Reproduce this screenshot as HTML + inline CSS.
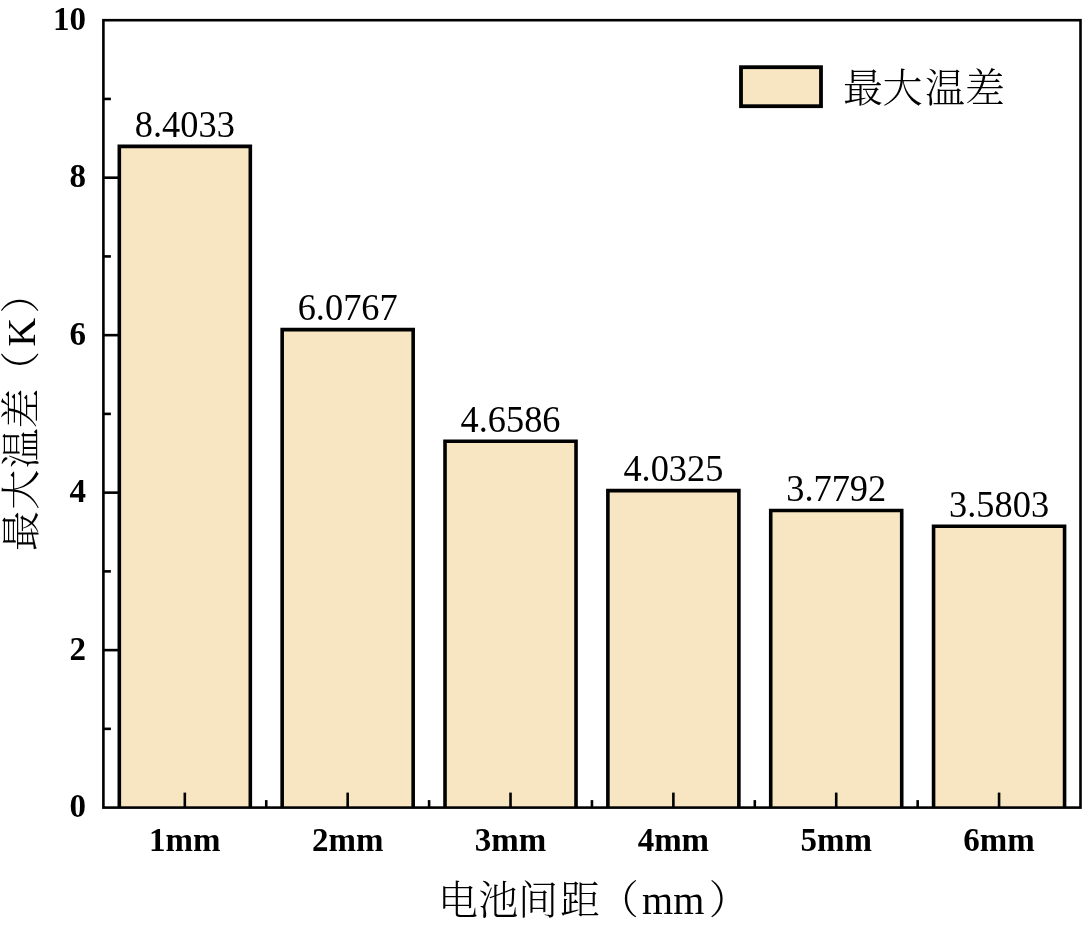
<!DOCTYPE html>
<html><head><meta charset="utf-8"><title>最大温差</title>
<style>
html,body{margin:0;padding:0;background:#fff;}
body{width:1087px;height:925px;overflow:hidden;}
svg{display:block;}
.tb{font-family:"Liberation Serif","Noto Serif CJK SC",serif;font-weight:bold;font-size:33px;fill:#000;}
.vl{font-family:"Liberation Serif","Noto Serif CJK SC",serif;font-size:37.5px;fill:#000;}
.ti{font-family:"Liberation Serif","Noto Serif CJK SC",serif;font-size:40px;font-weight:300;fill:#000;}
</style></head><body>
<svg width="1087" height="925" viewBox="0 0 1087 925">
<rect x="0" y="0" width="1087" height="925" fill="#fff"/>

<rect x="119.32" y="146.42" width="131.00" height="661.18" fill="#F7E6C1"/>
<path d="M119.32 807.6V146.42H250.32V807.6" fill="none" stroke="#000" stroke-width="3.6" stroke-linejoin="miter"/>
<text class="vl" transform="translate(184.82,137.22) scale(0.97,1)" text-anchor="middle">8.4033</text>
<rect x="282.17" y="329.62" width="131.00" height="477.98" fill="#F7E6C1"/>
<path d="M282.17 807.6V329.62H413.17V807.6" fill="none" stroke="#000" stroke-width="3.6" stroke-linejoin="miter"/>
<text class="vl" transform="translate(347.67,320.42) scale(0.97,1)" text-anchor="middle">6.0767</text>
<rect x="445.02" y="441.28" width="131.00" height="366.32" fill="#F7E6C1"/>
<path d="M445.02 807.6V441.28H576.02V807.6" fill="none" stroke="#000" stroke-width="3.6" stroke-linejoin="miter"/>
<text class="vl" transform="translate(510.52,432.08) scale(0.97,1)" text-anchor="middle">4.6586</text>
<rect x="607.88" y="490.58" width="131.00" height="317.02" fill="#F7E6C1"/>
<path d="M607.88 807.6V490.58H738.88V807.6" fill="none" stroke="#000" stroke-width="3.6" stroke-linejoin="miter"/>
<text class="vl" transform="translate(673.38,481.38) scale(0.97,1)" text-anchor="middle">4.0325</text>
<rect x="770.72" y="510.53" width="131.00" height="297.07" fill="#F7E6C1"/>
<path d="M770.72 807.6V510.53H901.72V807.6" fill="none" stroke="#000" stroke-width="3.6" stroke-linejoin="miter"/>
<text class="vl" transform="translate(836.22,501.33) scale(0.97,1)" text-anchor="middle">3.7792</text>
<rect x="933.57" y="526.19" width="131.00" height="281.41" fill="#F7E6C1"/>
<path d="M933.57 807.6V526.19H1064.57V807.6" fill="none" stroke="#000" stroke-width="3.6" stroke-linejoin="miter"/>
<text class="vl" transform="translate(999.07,516.99) scale(0.97,1)" text-anchor="middle">3.5803</text>
<rect x="103.4" y="20.2" width="977.10" height="787.40" fill="none" stroke="#000" stroke-width="2.6"/>
<text class="tb" x="86.0" y="817.10" text-anchor="end">0</text>
<line x1="103.4" y1="728.86" x2="110.9" y2="728.86" stroke="#000" stroke-width="2.6"/>
<line x1="103.4" y1="650.12" x2="118.4" y2="650.12" stroke="#000" stroke-width="2.6"/>
<text class="tb" x="86.0" y="659.62" text-anchor="end">2</text>
<line x1="103.4" y1="571.38" x2="110.9" y2="571.38" stroke="#000" stroke-width="2.6"/>
<line x1="103.4" y1="492.64" x2="118.4" y2="492.64" stroke="#000" stroke-width="2.6"/>
<text class="tb" x="86.0" y="502.14" text-anchor="end">4</text>
<line x1="103.4" y1="413.90" x2="110.9" y2="413.90" stroke="#000" stroke-width="2.6"/>
<line x1="103.4" y1="335.16" x2="118.4" y2="335.16" stroke="#000" stroke-width="2.6"/>
<text class="tb" x="86.0" y="344.66" text-anchor="end">6</text>
<line x1="103.4" y1="256.42" x2="110.9" y2="256.42" stroke="#000" stroke-width="2.6"/>
<line x1="103.4" y1="177.68" x2="118.4" y2="177.68" stroke="#000" stroke-width="2.6"/>
<text class="tb" x="86.0" y="187.18" text-anchor="end">8</text>
<line x1="103.4" y1="98.94" x2="110.9" y2="98.94" stroke="#000" stroke-width="2.6"/>
<text class="tb" x="86.0" y="29.70" text-anchor="end">10</text>
<line x1="184.82" y1="807.6" x2="184.82" y2="792.6" stroke="#000" stroke-width="2.6"/>
<line x1="266.25" y1="807.6" x2="266.25" y2="800.1" stroke="#000" stroke-width="2.6"/>
<text class="tb" x="184.82" y="851" text-anchor="middle">1mm</text>
<line x1="347.67" y1="807.6" x2="347.67" y2="792.6" stroke="#000" stroke-width="2.6"/>
<line x1="429.10" y1="807.6" x2="429.10" y2="800.1" stroke="#000" stroke-width="2.6"/>
<text class="tb" x="347.67" y="851" text-anchor="middle">2mm</text>
<line x1="510.52" y1="807.6" x2="510.52" y2="792.6" stroke="#000" stroke-width="2.6"/>
<line x1="591.95" y1="807.6" x2="591.95" y2="800.1" stroke="#000" stroke-width="2.6"/>
<text class="tb" x="510.52" y="851" text-anchor="middle">3mm</text>
<line x1="673.38" y1="807.6" x2="673.38" y2="792.6" stroke="#000" stroke-width="2.6"/>
<line x1="754.80" y1="807.6" x2="754.80" y2="800.1" stroke="#000" stroke-width="2.6"/>
<text class="tb" x="673.38" y="851" text-anchor="middle">4mm</text>
<line x1="836.22" y1="807.6" x2="836.22" y2="792.6" stroke="#000" stroke-width="2.6"/>
<line x1="917.65" y1="807.6" x2="917.65" y2="800.1" stroke="#000" stroke-width="2.6"/>
<text class="tb" x="836.22" y="851" text-anchor="middle">5mm</text>
<line x1="999.07" y1="807.6" x2="999.07" y2="792.6" stroke="#000" stroke-width="2.6"/>
<text class="tb" x="999.07" y="851" text-anchor="middle">6mm</text>
<rect x="741" y="67.2" width="80" height="39" fill="#F7E6C1" stroke="#000" stroke-width="3.8"/>
<text class="ti" x="843 882.5 925 965" y="102">最大温差</text>
<text class="ti" y="914"><tspan x="438 478.3 518 560">电池间距</tspan><tspan x="598.65">（</tspan><tspan x="642.05">mm</tspan><tspan x="708.8">）</tspan></text>
<text class="ti" transform="rotate(-90)" y="35.1"><tspan x="-550.9 -509.65 -468.35 -428.45">最大温差</tspan><tspan x="-391.1">（</tspan><tspan x="-346.85">K</tspan><tspan x="-313.6">）</tspan></text>
</svg>
</body></html>
